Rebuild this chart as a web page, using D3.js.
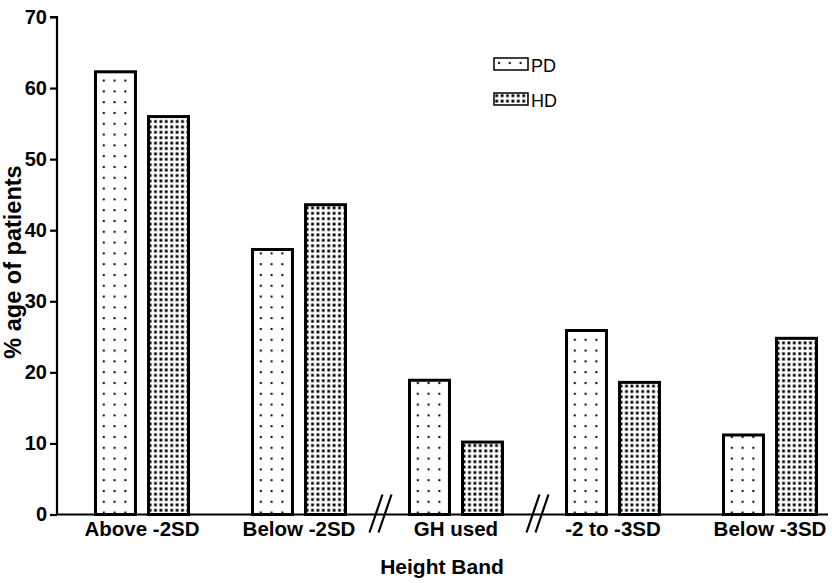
<!DOCTYPE html>
<html>
<head>
<meta charset="utf-8">
<script src="https://cdn.jsdelivr.net/npm/d3@7"></script>
<style>
  body { margin: 0; background: #fff; }
  svg { display: block; font-family: "Liberation Sans", Arial, sans-serif; }
</style>
</head>
<body>
<svg id="chart" width="832" height="583"></svg>
<script>
// Height bands and the two dialysis groups
const categories = ["Above -2SD", "Below -2SD", "GH used", "-2 to -3SD", "Below -3SD"];
const seriesNames = ["PD", "HD"];
const pdValues = [62.5, 37.5, 19.1, 26.1, 11.4];
const hdValues = [56.2, 43.8, 10.4, 18.8, 25.0];
const yTicks = [0, 10, 20, 30, 40, 50, 60, 70];
// axis breaks sit between these category pairs
const breaksAfter = ["Below -2SD", "GH used"];

const svg = d3.select("#chart");
const margin = { left: 57, top: 17, bottom: 514.5 };

const y = d3.scaleLinear().domain([0, 70]).range([margin.bottom, margin.top]);
const x = d3.scaleBand().domain(categories).range([63.5, 63.5 + 5 * 157]);
const xs = d3.scaleBand().domain(seriesNames).range([-48, 48]).paddingInner(0.19);

// fill patterns: sparse dots for PD, dense dots for HD
const defs = svg.append("defs");
const pdPat = defs.append("pattern").attr("id", "pat-PD")
  .attr("patternUnits", "userSpaceOnUse").attr("width", 10.8).attr("height", 10.8);
pdPat.append("rect").attr("width", 10.8).attr("height", 10.8).attr("fill", "#fff");
pdPat.append("rect").attr("x", 4).attr("y", 4).attr("width", 2).attr("height", 2).attr("fill", "#000");
const hdPat = defs.append("pattern").attr("id", "pat-HD")
  .attr("patternUnits", "userSpaceOnUse").attr("width", 5.4).attr("height", 5.4);
hdPat.append("rect").attr("width", 5.4).attr("height", 5.4).attr("fill", "#fff");
hdPat.append("rect").attr("x", 1.3).attr("y", 1.3).attr("width", 2.8).attr("height", 2.8).attr("fill", "#000");

const rows = categories.map((c, i) => ({ cat: c, values: { PD: pdValues[i], HD: hdValues[i] } }));

// bars
const groups = svg.append("g").selectAll("g").data(rows).join("g")
  .attr("transform", d => `translate(${x(d.cat) + x.bandwidth() / 2},0)`);
groups.selectAll("rect").data(d => seriesNames.map(s => ({ s, v: d.values[s] }))).join("rect")
  .attr("x", d => xs(d.s) + 1.5)
  .attr("width", xs.bandwidth() - 3)
  .attr("y", d => y(d.v) + 1.5)
  .attr("height", d => y(0) - y(d.v) - 1.5)
  .attr("fill", d => `url(#pat-${d.s})`)
  .attr("stroke", "#000")
  .attr("stroke-width", 3);

// y axis
const yAxis = svg.append("g").attr("transform", `translate(${margin.left},0)`)
  .call(d3.axisLeft(y).tickValues(yTicks).tickSize(7).tickPadding(3));
yAxis.attr("font-size", 20).attr("font-family", null);
yAxis.select(".domain").attr("stroke-width", 2.2).attr("d", `M-7,${y(70)}H0V${y(0)}`);
yAxis.selectAll(".tick line").attr("stroke-width", 2.2);
yAxis.selectAll(".tick text").attr("font-weight", "bold").attr("fill", "#000");

// x axis line
svg.append("line").attr("x1", margin.left - 1).attr("x2", 828)
  .attr("y1", y(0)).attr("y2", y(0)).attr("stroke", "#000").attr("stroke-width", 2.2);

// category labels
svg.append("g").selectAll("text").data(categories).join("text")
  .attr("x", d => x(d) + x.bandwidth() / 2)
  .attr("y", y(0) + 21)
  .attr("text-anchor", "middle")
  .attr("font-size", 20.5).attr("font-weight", "bold")
  .text(d => d);

// axis break marks
const brk = svg.append("g").selectAll("g").data(breaksAfter).join("g")
  .attr("transform", d => `translate(${x(d) + x.bandwidth() + 3},${y(0)})`);
[-4.5, 4.5].forEach(dx => {
  brk.append("line")
    .attr("x1", dx - 6.5).attr("y1", 18)
    .attr("x2", dx + 6.5).attr("y2", -20)
    .attr("stroke", "#000").attr("stroke-width", 2.2);
});

// axis titles
svg.append("text").attr("x", 442).attr("y", 574).attr("text-anchor", "middle")
  .attr("font-size", 21).attr("font-weight", "bold").text("Height Band");
svg.append("text").attr("transform", "translate(21,262) rotate(-90)")
  .attr("text-anchor", "middle").attr("font-size", 23.5).attr("font-weight", "bold")
  .text("% age of patients");

// legend
const legend = svg.append("g").selectAll("g").data(seriesNames).join("g")
  .attr("transform", (d, i) => `translate(494,${58 + i * 35})`);
legend.append("rect").attr("width", 34).attr("height", 12)
  .attr("fill", d => `url(#pat-${d})`).attr("stroke", "#000").attr("stroke-width", 1.5);
legend.append("text").attr("x", 37).attr("y", 14).attr("font-size", 18).text(d => d);
</script>
</body>
</html>
